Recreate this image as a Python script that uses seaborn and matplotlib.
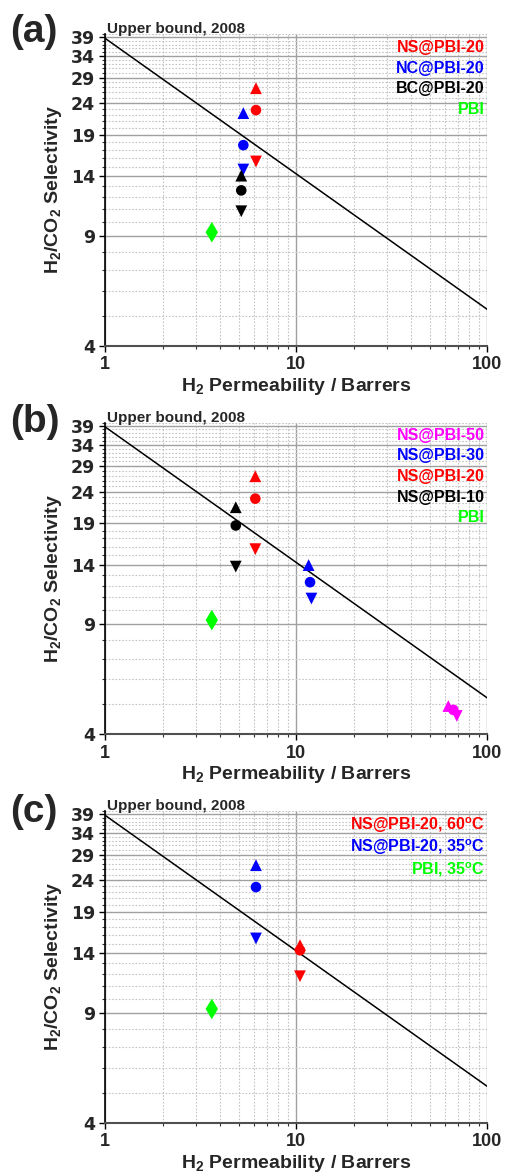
import numpy as np
import pandas as pd
import matplotlib
matplotlib.use("Agg")
import matplotlib.pyplot as plt
import seaborn as sns
from matplotlib.ticker import FixedLocator, FixedFormatter, NullFormatter

# ---------------- data ----------------
ub_perm = [1.0, 100.0]
ub_sel = [38.7, 5.23]

a_label = ["NS@PBI-20"] * 3 + ["NC@PBI-20"] * 3 + ["BC@PBI-20"] * 3 + ["PBI"]
a_kind = ["up", "circle", "down"] * 3 + ["diamond"]
a_perm = [6.15, 6.15, 6.15, 5.28, 5.28, 5.28, 5.15, 5.15, 5.15, 3.61]
a_sel = [26.8, 22.8, 15.6, 22.3, 17.6, 14.7, 14.05, 12.6, 10.8, 9.25]

b_label = ["NS@PBI-50"] * 3 + ["NS@PBI-30"] * 3 + ["NS@PBI-20"] * 3 + ["NS@PBI-10"] * 3 + ["PBI"]
b_kind = ["up", "circle", "down"] * 4 + ["diamond"]
b_perm = [62.5, 66.4, 69.2, 11.6, 11.8, 12.0, 6.1, 6.1, 6.1, 4.82, 4.82, 4.82, 3.61]
b_sel = [4.93, 4.79, 4.58, 13.96, 12.3, 10.9, 26.9, 22.8, 15.7, 21.4, 18.7, 13.8, 9.3]

c_label = ["NS@PBI-20, 60°C"] * 3 + ["NS@PBI-20, 35°C"] * 3 + ["PBI, 35°C"]
c_kind = ["up", "circle", "down"] * 2 + ["diamond"]
c_perm = [10.45, 10.45, 10.45, 6.15, 6.15, 6.15, 3.61]
c_sel = [14.85, 14.3, 11.8, 26.8, 22.8, 15.6, 9.27]

a_colors = {"NS@PBI-20": "#ff0000", "NC@PBI-20": "#0000ff", "BC@PBI-20": "#000000", "PBI": "#00ff00"}
b_colors = {"NS@PBI-50": "#ff00ff", "NS@PBI-30": "#0000ff", "NS@PBI-20": "#ff0000",
            "NS@PBI-10": "#000000", "PBI": "#00ff00"}
c_colors = {"NS@PBI-20, 60°C": "#ff0000", "NS@PBI-20, 35°C": "#0000ff", "PBI, 35°C": "#00ff00"}

x_ticks = [1, 10, 100]
x_tick_labels = ["1", "10", "100"]
y_ticks = [4, 9, 14, 19, 24, 29, 34, 39]
y_tick_labels = ["4", "9", "14", "19", "24", "29", "34", "39"]
x_minor = [2, 3, 4, 5, 6, 7, 8, 9, 20, 30, 40, 50, 60, 70, 80, 90]
y_minor = [v for v in range(4, 41) if v not in y_ticks]

kind_markers = {"up": "^", "circle": "o", "down": "v", "diamond": "d"}
kind_sizes = {"up": 72, "circle": 58, "down": 72, "diamond": 110}

# ---------------- style ----------------
sns.set_style("ticks")
plt.rcParams['font.family'] = ['Liberation Sans', 'DejaVu Sans']
plt.rcParams['mathtext.fontset'] = 'custom'
plt.rcParams['mathtext.rm'] = 'Liberation Sans:bold'
plt.rcParams['mathtext.it'] = 'Liberation Sans:bold'
plt.rcParams['mathtext.bf'] = 'Liberation Sans:bold'

fig = plt.figure(figsize=(5.07, 11.76), dpi=100)

left, width, height = 0.2077, 0.7535, 0.2651
bottoms = [0.7060, 0.3756, 0.0453]


def draw(ax, labels, kinds, perm, sel, colors, legend_ys):
    df = pd.DataFrame({"label": labels, "kind": kinds, "perm": perm, "sel": sel})
    ax.set_xscale("log")
    ax.set_yscale("log")
    sns.lineplot(x=ub_perm, y=ub_sel, ax=ax, color="black", lw=1.1, zorder=2)
    sns.scatterplot(data=df, x="perm", y="sel", hue="label", style="kind", size="kind",
                    palette=colors, markers=kind_markers, sizes=kind_sizes,
                    linewidth=0, legend=False, ax=ax, zorder=3)
    ax.set_xlim(1, 100)
    ax.set_ylim(4, 40)
    ax.xaxis.set_major_locator(FixedLocator(x_ticks))
    ax.xaxis.set_major_formatter(FixedFormatter(x_tick_labels))
    ax.xaxis.set_minor_locator(FixedLocator(x_minor))
    ax.xaxis.set_minor_formatter(NullFormatter())
    ax.yaxis.set_major_locator(FixedLocator(y_ticks))
    ax.yaxis.set_major_formatter(FixedFormatter(y_tick_labels))
    ax.yaxis.set_minor_locator(FixedLocator(y_minor))
    ax.yaxis.set_minor_formatter(NullFormatter())
    ax.set_axisbelow(True)
    ax.grid(which="major", color="#a0a0a0", lw=1.0, ls="-")
    ax.grid(which="minor", color="#c4c4c4", lw=0.8, ls=(0, (1.5, 1.5)))
    for s in ["top", "right"]:
        ax.spines[s].set_visible(False)
    ax.spines["left"].set_color("black")
    ax.spines["left"].set_linewidth(1.2)
    ax.spines["bottom"].set_color("#505050")
    ax.spines["bottom"].set_linewidth(1.5)
    ax.tick_params(axis="both", which="major", direction="out", length=4.5, width=1.0,
                   color="black", pad=3)
    ax.tick_params(axis="both", which="minor", direction="out", length=2, width=0.8,
                   color="#303030")
    for t in ax.get_xticklabels():
        t.set_fontsize(13)
        t.set_fontweight("bold")
    for t in ax.get_yticklabels():
        t.set_fontsize(12.5)
        t.set_fontweight("bold")
        t.set_family(["DejaVu Sans"])
    ax.set_xlabel(r"H$_2$ Permeability / Barrers", fontsize=14, fontweight="bold", labelpad=2)
    ax.set_ylabel(r"H$_2$/CO$_2$ Selectivity", fontsize=14, fontweight="bold", labelpad=5)
    ax.text(0.005, 1.002, "Upper bound, 2008", transform=ax.transAxes, fontsize=11,
            fontweight="bold", ha="left", va="baseline")
    for name, y in zip(colors.keys(), legend_ys):
        disp = name.replace("°C", r"$^{\mathrm{o}}$C")
        ax.text(0.993, y, disp, transform=ax.transAxes, color=colors[name], fontsize=11.5,
                fontweight="bold", ha="right", va="center")


ax_a = fig.add_axes([left, bottoms[0], width, height])
draw(ax_a, a_label, a_kind, a_perm, a_sel, a_colors, [0.956, 0.890, 0.824, 0.757])
ax_b = fig.add_axes([left, bottoms[1], width, height])
draw(ax_b, b_label, b_kind, b_perm, b_sel, b_colors, [0.959, 0.893, 0.827, 0.761, 0.695])
ax_c = fig.add_axes([left, bottoms[2], width, height])
draw(ax_c, c_label, c_kind, c_perm, c_sel, c_colors, [0.955, 0.884, 0.813])

for lab, y in zip(["(a)", "(b)", "(c)"], [0.9728, 0.6412, 0.3098]):
    fig.text(0.02, y, lab, fontsize=28, fontweight="bold", ha="left", va="center")

fig.savefig("out.png", dpi=100)
